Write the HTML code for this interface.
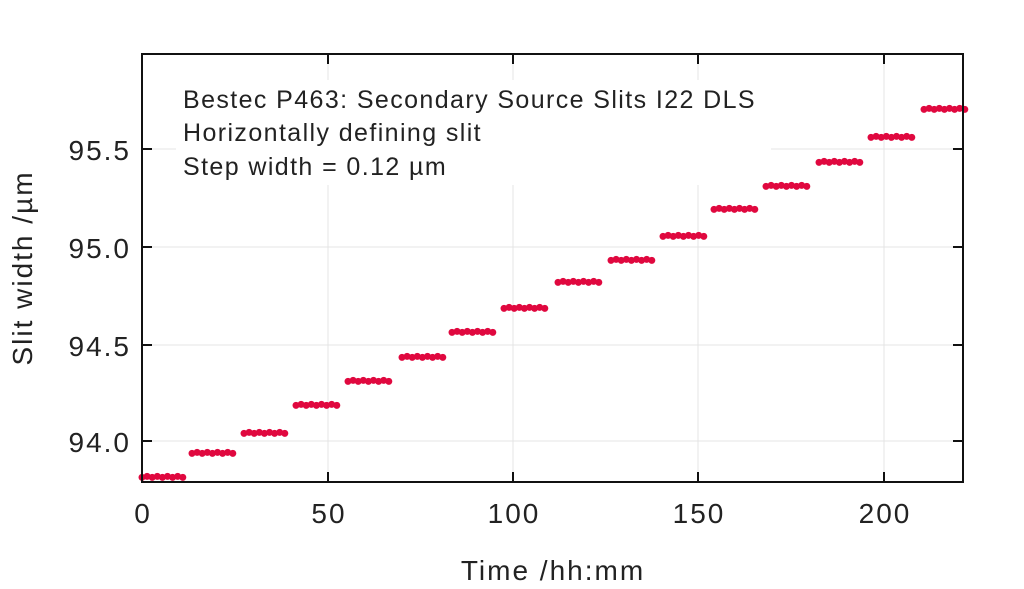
<!DOCTYPE html>
<html><head><meta charset="utf-8"><style>
html,body{margin:0;padding:0;background:#fff;}
svg{display:block;font-family:"Liberation Sans",sans-serif;}
</style></head><body>
<svg id="s" width="1024" height="589" viewBox="0 0 1024 589">
<g stroke="#e4e4e4" stroke-width="1">
<line x1="328" y1="54" x2="328" y2="482"/><line x1="513" y1="54" x2="513" y2="482"/>
<line x1="698" y1="54" x2="698" y2="482"/><line x1="884" y1="54" x2="884" y2="482"/>
<line x1="142" y1="149" x2="963" y2="149"/><line x1="142" y1="247" x2="963" y2="247"/>
<line x1="142" y1="345" x2="963" y2="345"/><line x1="142" y1="441" x2="963" y2="441"/>
</g>
<rect x="176" y="80" width="595" height="105" fill="#fff"/>
<g id="d" fill="#e0083f"></g>
<rect x="142" y="54" width="821" height="428" fill="none" stroke="#111" stroke-width="2"/>
<g stroke="#111" stroke-width="2">
<line x1="328" y1="482" x2="328" y2="472"/><line x1="513" y1="482" x2="513" y2="472"/>
<line x1="698" y1="482" x2="698" y2="472"/><line x1="884" y1="482" x2="884" y2="472"/>
<line x1="328" y1="54" x2="328" y2="64"/><line x1="513" y1="54" x2="513" y2="64"/>
<line x1="698" y1="54" x2="698" y2="64"/><line x1="884" y1="54" x2="884" y2="64"/>
<line x1="142" y1="149" x2="152" y2="149"/><line x1="142" y1="247" x2="152" y2="247"/>
<line x1="142" y1="345" x2="152" y2="345"/><line x1="142" y1="441" x2="152" y2="441"/>
<line x1="963" y1="149" x2="953" y2="149"/><line x1="963" y1="247" x2="953" y2="247"/>
<line x1="963" y1="345" x2="953" y2="345"/><line x1="963" y1="441" x2="953" y2="441"/>
</g>
<g fill="#222" font-size="28" text-anchor="end" letter-spacing="2">
<text x="131" y="160">95.5</text><text x="131" y="258">95.0</text>
<text x="131" y="356">94.5</text><text x="131" y="452">94.0</text>
</g>
<g fill="#222" font-size="28" text-anchor="middle" letter-spacing="2">
<text x="143" y="523">0</text><text x="329" y="523">50</text><text x="514" y="523">100</text>
<text x="699" y="523">150</text><text x="885" y="523">200</text>
<text x="553" y="580">Time /hh:mm</text>
<text transform="translate(32,268) rotate(-90)">Slit width /µm</text>
</g>
<g fill="#222" font-size="25" letter-spacing="1.4">
<text x="183" y="108">Bestec P463: Secondary Source Slits I22 DLS</text>
<text x="183" y="141">Horizontally defining slit</text>
<text x="183" y="175">Step width = 0.12 µm</text>
</g>
</svg>
<script>
var xs=[142,192,244,296,348,402,452,504,558,611,663,714,766,819,871,924];
var ys=[477,453,433,405,381,357,332,308,282,260,236,209,186,162,137,109];
var g=document.getElementById('d'),h='';
for(var i=0;i<16;i++){for(var j=0;j<9;j++){var x=xs[i]+j*5.1;if(x>966)continue;
h+='<circle cx="'+x.toFixed(1)+'" cy="'+(ys[i]+(j%2?-0.6:0.4))+'" r="3.5"/>';}}
g.innerHTML=h;
</script>
</body></html>
